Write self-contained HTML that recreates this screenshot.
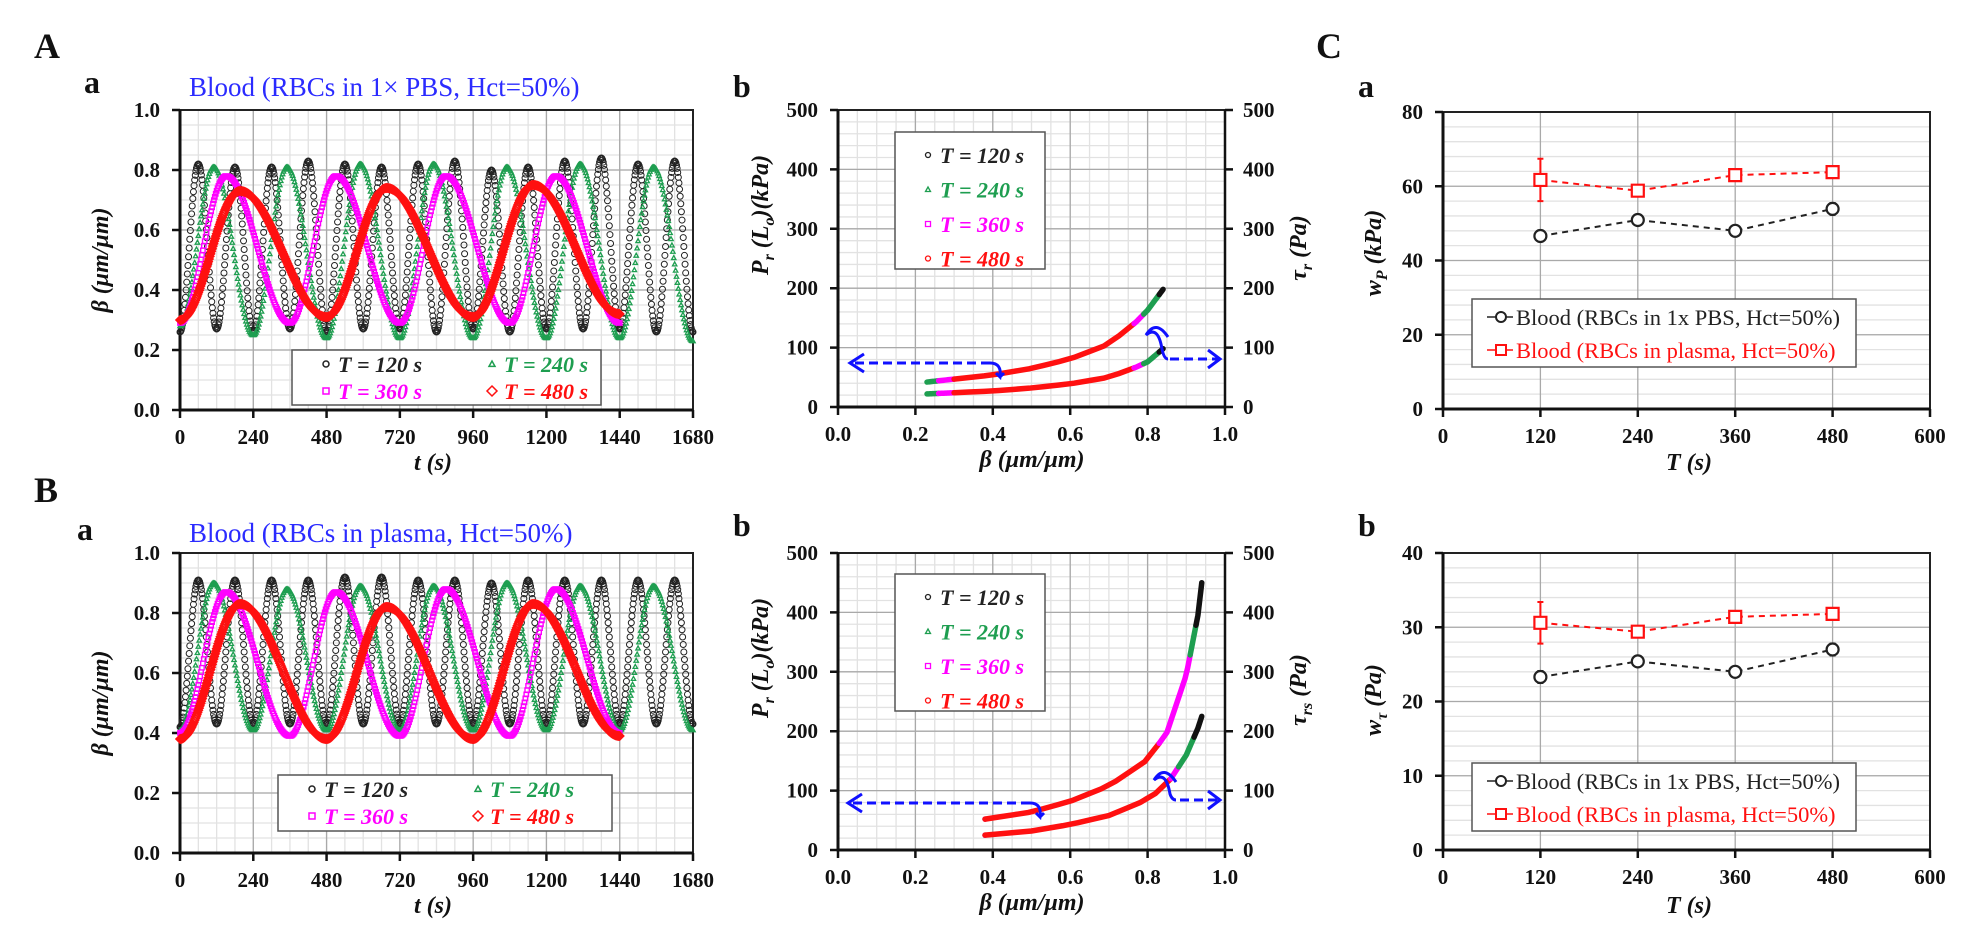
<!DOCTYPE html>
<html><head><meta charset="utf-8"><title>Blood oscillation figure</title>
<style>
html,body{margin:0;padding:0;background:#fff;}
svg{display:block;font-family:"Liberation Serif",serif;}
.tk{font-size:21px;font-weight:bold;fill:#111;}
.ttl{font-size:24px;font-weight:bold;font-style:italic;fill:#111;}
.lg{font-size:22px;font-weight:bold;font-style:italic;}
.pl{font-size:36px;font-weight:bold;fill:#111;}
.sl{font-size:32px;font-weight:bold;fill:#111;}
.lc{font-size:22.5px;}
</style></head>
<body>
<svg id="fig" width="1969" height="936" viewBox="0 0 1969 936" xmlns="http://www.w3.org/2000/svg">
<text class="pl" x="34" y="58">A</text>
<text class="sl" x="84" y="93">a</text>
<text x="189" y="96" font-size="27" fill="#2b2bff">Blood (RBCs in 1× PBS, Hct=50%)</text>
<text class="sl" x="733" y="97">b</text>
<text class="pl" x="1316" y="58">C</text>
<text class="sl" x="1358" y="97">a</text>
<text class="pl" x="34" y="502">B</text>
<text class="sl" x="77" y="540">a</text>
<text x="189" y="542" font-size="27" fill="#2b2bff">Blood (RBCs in plasma, Hct=50%)</text>
<text class="sl" x="733" y="536">b</text>
<text class="sl" x="1358" y="536">b</text>

<text class="ttl" x="433" y="470" text-anchor="middle">t (s)</text>
<text class="ttl" x="433" y="913" text-anchor="middle">t (s)</text>
<text class="ttl" transform="translate(108,260) rotate(-90)" text-anchor="middle">β (μm/μm)</text>
<text class="ttl" transform="translate(108,703) rotate(-90)" text-anchor="middle">β (μm/μm)</text>
<text class="ttl" x="1032" y="467" text-anchor="middle">β (μm/μm)</text>
<text class="ttl" x="1032" y="910" text-anchor="middle">β (μm/μm)</text>
<text class="ttl" transform="translate(768,215) rotate(-90)" text-anchor="middle">P<tspan font-size="16" dy="6">r</tspan><tspan dy="-6"> (L</tspan><tspan font-size="16" dy="6">o</tspan><tspan dy="-6">)(kPa)</tspan></text>
<text class="ttl" transform="translate(768,658) rotate(-90)" text-anchor="middle">P<tspan font-size="16" dy="6">r</tspan><tspan dy="-6"> (L</tspan><tspan font-size="16" dy="6">o</tspan><tspan dy="-6">)(kPa)</tspan></text>
<text class="ttl" transform="translate(1306,248) rotate(-90)" text-anchor="middle">τ<tspan font-size="16" dy="6">r</tspan><tspan dy="-6"> (Pa)</tspan></text>
<text class="ttl" transform="translate(1306,690) rotate(-90)" text-anchor="middle">τ<tspan font-size="16" dy="6">rs</tspan><tspan dy="-6"> (Pa)</tspan></text>
<text class="ttl" x="1689" y="470" text-anchor="middle">T (s)</text>
<text class="ttl" x="1689" y="913" text-anchor="middle">T (s)</text>
<text class="ttl" transform="translate(1381,253) rotate(-90)" text-anchor="middle">w<tspan font-size="16" dy="6">P</tspan><tspan dy="-6"> (kPa)</tspan></text>
<text class="ttl" transform="translate(1381,700) rotate(-90)" text-anchor="middle">w<tspan font-size="16" dy="6">τ</tspan><tspan dy="-6"> (Pa)</tspan></text>
<g id="layer"></g>
</svg>
<script>
const oscPeriods = [120, 240, 360, 480];
const oscEnds = [1680, 1680, 1440, 1440];
const aMax120 = [0.82,0.81,0.81,0.83,0.82,0.81,0.82,0.83,0.80,0.81,0.83,0.84,0.82,0.83];
const aMin120 = [0.26,0.27,0.26,0.27,0.26,0.27,0.27,0.26,0.27,0.26,0.27,0.27,0.27,0.26,0.26];
const aMax240 = [0.81,0.81,0.82,0.82,0.81,0.82,0.81];
const aMin240 = [0.28,0.25,0.24,0.24,0.24,0.24,0.24,0.23];
const aMax360 = [0.78,0.78,0.78,0.78];
const aMin360 = [0.29,0.29,0.29,0.29,0.29];
const aMax480 = [0.73,0.74,0.75];
const aMin480 = [0.30,0.31,0.31,0.32];
const bMax120 = [0.91,0.91,0.91,0.91,0.92,0.92,0.91,0.91,0.90,0.91,0.91,0.91,0.91,0.91];
const bMin120 = [0.42,0.43,0.43,0.43,0.43,0.43,0.43,0.43,0.43,0.43,0.43,0.43,0.43,0.43,0.43];
const bMax240 = [0.90,0.88,0.89,0.89,0.90,0.89,0.89];
const bMin240 = [0.41,0.41,0.41,0.41,0.41,0.41,0.41,0.41];
const bMax360 = [0.87,0.87,0.88,0.88];
const bMin360 = [0.40,0.39,0.39,0.39,0.40];
const bMax480 = [0.83,0.82,0.83];
const bMin480 = [0.38,0.38,0.38,0.39];
const abBeta = [0.23,0.30,0.40,0.50,0.60,0.70,0.77,0.80,0.84];
const abP = [42,47,54,65,81,106,143,163,198];
const abTau = [22,24,27,32,39,50,67,76,98];
const bbBeta = [0.38,0.50,0.60,0.70,0.80,0.85,0.90,0.93,0.94];
const bbP = [52,64,82,108,152,198,295,395,450];
const bbTau = [25,32,43,58,85,110,160,205,225];
const cT = [120,240,360,480];
const caPBS = [46.6,50.9,48.0,53.9];
const caPBSErr = [1.5,1.4,1.2,1.6];
const caPlasma = [61.7,58.8,63.0,63.8];
const caPlasmaErr = [5.7,1.0,0.9,0.9];
const cbPBS = [23.3,25.4,24.0,27.0];
const cbPBSErr = [0.8,0.7,0.6,0.8];
const cbPlasma = [30.6,29.4,31.4,31.8];
const cbPlasmaErr = [2.8,0.5,0.4,0.5];
const xTicksT = ['0','240','480','720','960','1200','1440','1680'];
const yTicksBeta = ['0.0','0.2','0.4','0.6','0.8','1.0'];
const xTicksB = ['0.0','0.2','0.4','0.6','0.8','1.0'];
const yTicksP = ['0','100','200','300','400','500'];
const xTicksC = ['0','120','240','360','480','600'];
const yTicksCa = ['0','20','40','60','80'];
const yTicksCb = ['0','10','20','30','40'];
const oscPeakFrac = [0.5,0.46,0.42,0.41];

const NS = 'http://www.w3.org/2000/svg';
const root = document.getElementById('layer');
function mk(tag, attrs, parent){const e=document.createElementNS(NS,tag);for(const k in attrs)e.setAttribute(k,attrs[k]);(parent||root).appendChild(e);return e;}
function lin(d0,d1,r0,r1){return v=>r0+(v-d0)/(d1-d0)*(r1-r0);}

function frame(p, name, xt, yt, yRight, xMinorN, yMinorN, vMajors, vMinor){
  const x=lin(p.x0,p.x1,p.L,p.R), y=lin(p.y0,p.y1,p.B,p.T);
  let dMin='', dMaj='';
  const xs=(p.x1-p.x0)/(xt.length-1), ys=(p.y1-p.y0)/(yt.length-1);
  if(vMinor!==false){
    for(let i=0;i<=(xt.length-1)*xMinorN;i++){const X=x(p.x0+i*xs/xMinorN);dMin+=`M${X} ${p.T}V${p.B}`;}
  }
  for(let i=0;i<=(yt.length-1)*yMinorN;i++){const Y=y(p.y0+i*ys/yMinorN);dMin+=`M${p.L} ${Y}H${p.R}`;}
  const g1=mk('path',{d:dMin,stroke:'#e2e2e2','stroke-width':1.3,fill:'none'});
  
  
  if(vMajors!==false) for(let i=1;i<xt.length-1;i++){const X=x(p.x0+i*xs);dMaj+=`M${X} ${p.T}V${p.B}`;}
  if(p.yMajor) for(let i=1;i<yt.length-1;i++){const Y=y(p.y0+i*ys);dMaj+=`M${p.L} ${Y}H${p.R}`;}
  const g2=mk('path',{d:dMaj,stroke:'#a9a9a9','stroke-width':1.3,fill:'none'});
  
  
  const fr=mk('rect',{x:p.L,y:p.T,width:p.R-p.L,height:p.B-p.T,fill:'none',stroke:'#222','stroke-width':2});
  
  
  const ax=mk('path',{d:`M${p.L} ${p.T}V${p.B}H${p.R}`,stroke:'#111','stroke-width':3,fill:'none'});
  
  
  let dT='';
  xt.forEach((t,i)=>{const X=x(p.x0+i*xs);dT+=`M${X} ${p.B}v8`;
    const tx=mk('text',{x:X,y:p.B+34,'text-anchor':'middle',class:'tk'});tx.textContent=t;
    
    });
  yt.forEach((t,i)=>{const Y=y(p.y0+i*ys);dT+=`M${p.L} ${Y}h-8`;
    const tx=mk('text',{x:p.L-20,y:Y+7,'text-anchor':'end',class:'tk'});tx.textContent=t;
    
    
    if(yRight){dT+=`M${p.R} ${Y}h8`;
      const t2=mk('text',{x:p.R+18,y:Y+7,'text-anchor':'start',class:'tk'});t2.textContent=t;
      
      }});
  if(yRight){dT+=`M${p.R} ${p.T}V${p.B}`;}
  const tk=mk('path',{d:dT,stroke:'#111','stroke-width':2.5,fill:'none'});
  
  
  return {x,y};
}

function marker(shape,X,Y,r){
  if(shape==='c') return `M${X-r} ${Y}a${r} ${r} 0 1 0 ${2*r} 0a${r} ${r} 0 1 0 ${-2*r} 0`;
  if(shape==='t') return `M${X} ${Y-r}L${X+r} ${Y+r*0.8}H${X-r}Z`;
  if(shape==='s') return `M${X-r} ${Y-r}h${2*r}v${2*r}h${-2*r}Z`;
  return `M${X} ${Y-r}L${X+r} ${Y}L${X} ${Y+r}L${X-r} ${Y}Z`;
}
function waveVal(mx,mn,T,t,f){
  const k=Math.min(Math.floor(t/T),mx.length-1);const u=t/T-k;
  const hi=mx[k];
  if(u<f){const w=u/f;return mn[k]+(hi-mn[k])*(1-Math.cos(Math.PI*w))/2;}
  const w=(u-f)/(1-f);const lo=mn[k+1];
  return hi+(lo-hi)*(1-Math.cos(Math.PI*w))/2;
}
function oscPanel(p,name,maxes,mins){
  const s=frame(p,name,xTicksT,yTicksBeta,false,4,4,true);
  const cols=['#222','#1e9e50','#ff00ff','#ff1010'];
  const shapes=['c','t','s','d'];
  const steps=[2,3,3,2.5];
  const rs=[3,2.2,2.2,4];
  const sw=[1,1.3,1.4,1.6];
  const names=['T120','T240','T360','T480'];
  for(let j=0;j<4;j++){
    let d='';
    for(let t=0;t<=oscEnds[j];t+=steps[j]){d+=marker(shapes[j],s.x(t),s.y(waveVal(maxes[j],mins[j],oscPeriods[j],t,oscPeakFrac[j])),rs[j]);}
    const pth=mk('path',{d,stroke:cols[j],'stroke-width':sw[j],fill:'none'});
    
    
  }
}
function legendOsc(x0,y0,w,h,name){
  const g=mk('g',{});
  
  
  mk('rect',{x:x0,y:y0,width:w,height:h,fill:'#fff',stroke:'#555','stroke-width':1.5},g);
  const items=[['T = 120 s','#222','c',3],['T = 240 s','#1e9e50','t',3],['T = 360 s','#ff00ff','s',3],['T = 480 s','#ff1010','d',5]];
  items.forEach((it,i)=>{
    const cx=x0+(i%2?200:34), cy=y0+(i<2?14:41);
    mk('path',{d:marker(it[2],cx,cy,it[3]),stroke:it[1],fill:'none','stroke-width':1.5},g);
    const t=mk('text',{x:cx+12,y:cy+8,class:'lg',fill:it[1]},g);t.textContent=it[0];
    
    
  });
}
function legendVert(x0,y0,name){
  const g=mk('g',{});
  
  
  mk('rect',{x:x0,y:y0,width:150,height:137,fill:'#fff',stroke:'#555','stroke-width':1.5},g);
  const items=[['T = 120 s','#222','c'],['T = 240 s','#1e9e50','t'],['T = 360 s','#ff00ff','s'],['T = 480 s','#ff1010','c']];
  items.forEach((it,i)=>{
    const cy=y0+23+i*34.5;
    mk('path',{d:marker(it[2],x0+33,cy,2.5),stroke:it[1],fill:'none','stroke-width':1.3},g);
    const t=mk('text',{x:x0+45,y:cy+8,class:'lg',fill:it[1]},g);t.textContent=it[0];
    
    
  });
}
function interp(xs,ys,v){for(let i=0;i<xs.length-1;i++){if(v<=xs[i+1]){const f=(v-xs[i])/(xs[i+1]-xs[i]);return ys[i]+f*(ys[i+1]-ys[i]);}}return ys[ys.length-1];}
function curvePanel(p,name,beta,P,tau,brksP,brksT){
  const s=frame(p,name,xTicksB,yTicksP,true,4,5,true);
  [[P,brksP,'P'],[tau,brksT,'tau']].forEach(([vals,br,nm])=>{
    const cols=['#1e9e50','#ff00ff','#ff1010','#ff00ff','#1e9e50','#111'];
    for(let k=0;k<br.length-1;k++){
      let d='';
      for(let i=0;i<=12;i++){const b=br[k]+(br[k+1]-br[k])*i/12;d+=(i?'L':'M')+s.x(b)+' '+s.y(interp(beta,vals,b));}
      const pth=mk('path',{d,stroke:cols[k],'stroke-width':5.5,fill:'none','stroke-linecap':'round'});
      
      
    }
  });
  return s;
}
function arrow(d,head,name){
  const a=mk('path',{d,stroke:'#1010ff','stroke-width':3,fill:'none','stroke-dasharray':'9 5'});
  
  
  const h=mk('path',{d:head,stroke:'#1010ff','stroke-width':3,fill:'none'});
  
  
}
function hook(d,name){
  const a=mk('path',{d,stroke:'#1010ff','stroke-width':3,fill:'none'});
  
  
}
function cPanel(p,name,yt,pbs,pbsE,pl,plE,minorN){
  const s=frame(p,name,xTicksC,yt,false,1,minorN,true,false);
  [[pl,plE,'#ff1010','s','plasma'],[pbs,pbsE,'#222','c','pbs']].forEach(([v,e,c,sh,nm])=>{
    let d='';cT.forEach((t,i)=>{d+=(i?'L':'M')+s.x(t)+' '+s.y(v[i]);});
    const ln=mk('path',{d,stroke:c,'stroke-width':2,'stroke-dasharray':'6 5',fill:'none'});
    
    
    let de='',dm='';
    cT.forEach((t,i)=>{const X=s.x(t);de+=`M${X} ${s.y(v[i]-e[i])}V${s.y(v[i]+e[i])}M${X-3} ${s.y(v[i]-e[i])}h6M${X-3} ${s.y(v[i]+e[i])}h6`;dm+=marker(sh,X,s.y(v[i]),6);});
    const eb=mk('path',{d:de,stroke:c,'stroke-width':2,fill:'none'});
    
    
    const mm=mk('path',{d:dm,stroke:c,'stroke-width':2.2,fill:'#fff'});
    
    
  });
}
function cLegend(x0,y0,name){
  const g=mk('g',{});
  
  
  mk('rect',{x:x0,y:y0,width:384,height:68,fill:'#fff',stroke:'#555','stroke-width':1.5},g);
  [['Blood (RBCs in 1x PBS, Hct=50%)','#222','c'],['Blood (RBCs in plasma, Hct=50%)','#ff1010','s']].forEach((it,i)=>{
    const cy=y0+18+i*33;
    mk('path',{d:`M${x0+15} ${cy}h26`,stroke:it[1],'stroke-width':1.5,fill:'none'},g);
    mk('path',{d:marker(it[2],x0+29,cy,5),stroke:it[1],'stroke-width':2,fill:'#fff'},g);
    const t=mk('text',{x:x0+44,y:cy+8,class:'lc',fill:it[1]},g);t.textContent=it[0];
    
    
  });
}

oscPanel({L:180,R:693,T:110,B:410,x0:0,x1:1680,y0:0,y1:1,yMajor:true},'Aa',[aMax120,aMax240,aMax360,aMax480],[aMin120,aMin240,aMin360,aMin480]);
legendOsc(292,350,309,55,'legend-Aa');
oscPanel({L:180,R:693,T:553,B:853,x0:0,x1:1680,y0:0,y1:1,yMajor:true},'Ba',[bMax120,bMax240,bMax360,bMax480],[bMin120,bMin240,bMin360,bMin480]);
legendOsc(278,775,334,56,'legend-Ba');

curvePanel({L:838,R:1225,T:110,B:407,x0:0,x1:1,y0:0,y1:500,yMajor:true},'Ab',abBeta,abP,abTau,[0.23,0.26,0.30,0.765,0.79,0.83,0.84],[0.23,0.26,0.30,0.765,0.79,0.83,0.84]);
legendVert(895,132,'legend-Ab');
arrow('M990 363H852','M864 354L850 363L864 372','arrow-left-Ab');
hook('M990 363q12 0 10 14l-4 -4m4 4l4 -4','hook-left-Ab');
arrow('M1170 359H1218','M1208 350L1220 359L1208 368','arrow-right-Ab');
hook('M1168 337q-12 -18 -22 -2q12 -10 16 14q2 10 6 10','hook-right-Ab');

curvePanel({L:838,R:1225,T:553,B:850,x0:0,x1:1,y0:0,y1:500,yMajor:true},'Bb',bbBeta,bbP,bbTau,[0.38,0.38,0.38,0.83,0.91,0.925,0.94],[0.38,0.38,0.38,0.86,0.88,0.92,0.94]);
legendVert(895,574,'legend-Bb');
arrow('M1030 803H850','M862 794L848 803L862 812','arrow-left-Bb');
hook('M1030 803q12 0 10 14l-4 -4m4 4l4 -4','hook-left-Bb');
arrow('M1180 800H1218','M1208 791L1220 800L1208 809','arrow-right-Bb');
hook('M1176 782q-12 -18 -22 -2q12 -10 16 14q2 6 6 6','hook-right-Bb');

cPanel({L:1443,R:1930,T:112,B:409,x0:0,x1:600,y0:0,y1:80,yMajor:true},'Ca',yTicksCa,caPBS,caPBSErr,caPlasma,caPlasmaErr,5);
cLegend(1472,299,'legend-Ca');
cPanel({L:1443,R:1930,T:553,B:850,x0:0,x1:600,y0:0,y1:40,yMajor:true},'Cb',yTicksCb,cbPBS,cbPBSErr,cbPlasma,cbPlasmaErr,5);
cLegend(1472,763,'legend-Cb');
</script>
</body></html>
